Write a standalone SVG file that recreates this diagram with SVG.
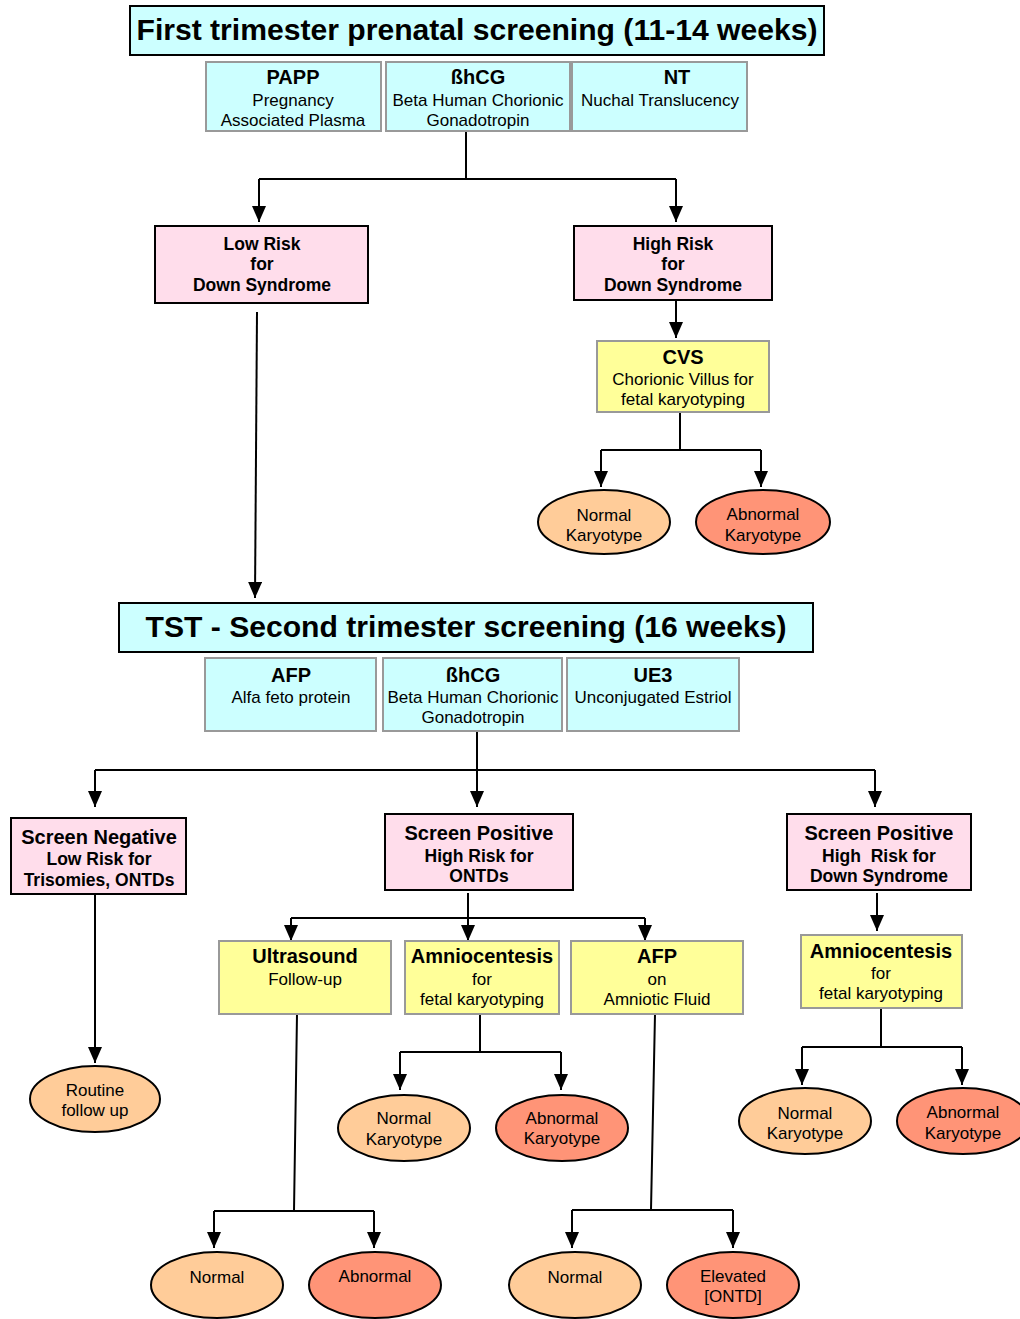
<svg xmlns="http://www.w3.org/2000/svg" width="1020" height="1319" viewBox="0 0 1020 1319">
<defs>
<marker id="arr" markerUnits="userSpaceOnUse" markerWidth="16" markerHeight="14" refX="16" refY="7" orient="auto">
<path d="M0,0 L16,7 L0,14 z" fill="#000"/>
</marker>
<style>
text{font-family:"Liberation Sans",Arial,sans-serif;fill:#000;text-anchor:middle}
.t{font-size:30px;font-weight:bold}
.h{font-size:20px;font-weight:bold}
.hb{font-size:17.5px;font-weight:bold}
.r{font-size:17px}
.cy{fill:#CCFFFF;stroke:#999;stroke-width:2}
.cyt{fill:#CCFFFF;stroke:#000;stroke-width:2}
.pk{fill:#FFDDEB;stroke:#000;stroke-width:2}
.ye{fill:#FFFF99;stroke:#999;stroke-width:2}
.or{fill:#FFCC99;stroke:#000;stroke-width:2}
.sa{fill:#FF9477;stroke:#000;stroke-width:2}
.c{fill:none;stroke:#000;stroke-width:2}
.ca{fill:none;stroke:#000;stroke-width:2;marker-end:url(#arr)}
</style>
</defs>
<rect width="1020" height="1319" fill="#fff"/>

<g id="connectors">
<path class="c" d="M466,131 V179 M259,179 H676"/>
<path class="ca" d="M259,179 V222"/>
<path class="ca" d="M676,179 V222"/>
<path class="ca" d="M676,300 V338"/>
<path class="c" d="M680,412 V450 M601,450 H761"/>
<path class="ca" d="M601,450 V487"/>
<path class="ca" d="M761,450 V487"/>
<path class="ca" d="M257,312 L255,598"/>
<path class="c" d="M477,731 V770 M95,770 H875"/>
<path class="ca" d="M95,770 V807"/>
<path class="ca" d="M477,770 V807"/>
<path class="ca" d="M875,770 V807"/>
<path class="ca" d="M95,894 V1063"/>
<path class="c" d="M468,893 V918 M291,918 H645"/>
<path class="ca" d="M291,918 V941"/>
<path class="ca" d="M468,918 V941"/>
<path class="ca" d="M645,918 V941"/>
<path class="c" d="M480,1014 V1052 M400,1052 H561"/>
<path class="ca" d="M400,1052 V1090"/>
<path class="ca" d="M561,1052 V1090"/>
<path class="c" d="M297,1014 L294,1211 M214,1211 H374"/>
<path class="ca" d="M214,1211 V1248"/>
<path class="ca" d="M374,1211 V1248"/>
<path class="c" d="M655,1014 L651,1210 M572,1210 H733"/>
<path class="ca" d="M572,1210 V1248"/>
<path class="ca" d="M733,1210 V1248"/>
<path class="ca" d="M877,893 V931"/>
<path class="c" d="M881,1008 V1047 M802,1047 H962"/>
<path class="ca" d="M802,1047 V1085"/>
<path class="ca" d="M962,1047 V1085"/>
</g>

<g id="title1">
<rect class="cyt" x="130" y="6" width="694" height="49"/>
<text class="t" x="477" y="40" textLength="681" lengthAdjust="spacingAndGlyphs">First trimester prenatal screening (11-14 weeks)</text>
</g>
<g id="papp">
<rect class="cy" x="206" y="62" width="175" height="69"/>
<text class="h" x="293" y="84">PAPP</text>
<text class="r" x="293" y="106">Pregnancy</text>
<text class="r" x="293" y="126">Associated Plasma</text>
</g>
<g id="bhcg1">
<rect class="cy" x="386" y="62" width="184" height="69"/>
<text class="h" x="478" y="84">ßhCG</text>
<text class="r" x="478" y="106">Beta Human Chorionic</text>
<text class="r" x="478" y="126">Gonadotropin</text>
</g>
<g id="nt">
<rect class="cy" x="572" y="62" width="175" height="69"/>
<text class="h" x="677" y="84">NT</text>
<text class="r" x="660" y="106">Nuchal Translucency</text>
</g>

<g id="lowrisk">
<rect class="pk" x="155" y="226" width="213" height="77"/>
<text class="hb" x="262" y="250">Low Risk</text>
<text class="hb" x="262" y="270">for</text>
<text class="hb" x="262" y="291">Down Syndrome</text>
</g>
<g id="highrisk">
<rect class="pk" x="574" y="226" width="198" height="74"/>
<text class="hb" x="673" y="250">High Risk</text>
<text class="hb" x="673" y="270">for</text>
<text class="hb" x="673" y="291">Down Syndrome</text>
</g>
<g id="cvs">
<rect class="ye" x="597" y="341" width="172" height="71"/>
<text class="h" x="683" y="364">CVS</text>
<text class="r" x="683" y="385">Chorionic Villus for</text>
<text class="r" x="683" y="405">fetal karyotyping</text>
</g>
<g id="cvs-normal">
<ellipse class="or" cx="604" cy="522" rx="66" ry="32"/>
<text class="r" x="604" y="521">Normal</text>
<text class="r" x="604" y="541">Karyotype</text>
</g>
<g id="cvs-abnormal">
<ellipse class="sa" cx="763" cy="522" rx="67" ry="32"/>
<text class="r" x="763" y="520">Abnormal</text>
<text class="r" x="763" y="541">Karyotype</text>
</g>

<g id="title2">
<rect class="cyt" x="119" y="603" width="694" height="49"/>
<text class="t" x="466" y="637" textLength="641" lengthAdjust="spacingAndGlyphs">TST - Second trimester screening (16 weeks)</text>
</g>
<g id="afp1">
<rect class="cy" x="205" y="658" width="171" height="73"/>
<text class="h" x="291" y="682">AFP</text>
<text class="r" x="291" y="703">Alfa feto protein</text>
</g>
<g id="bhcg2">
<rect class="cy" x="383" y="658" width="179" height="73"/>
<text class="h" x="473" y="682">ßhCG</text>
<text class="r" x="473" y="703">Beta Human Chorionic</text>
<text class="r" x="473" y="723">Gonadotropin</text>
</g>
<g id="ue3">
<rect class="cy" x="567" y="658" width="172" height="73"/>
<text class="h" x="653" y="682">UE3</text>
<text class="r" x="653" y="703">Unconjugated Estriol</text>
</g>

<g id="screen-negative">
<rect class="pk" x="11" y="818" width="175" height="76"/>
<text class="h" x="99" y="844">Screen Negative</text>
<text class="hb" x="99" y="865">Low Risk for</text>
<text class="hb" x="99" y="886">Trisomies, ONTDs</text>
</g>
<g id="screen-positive-ontd">
<rect class="pk" x="385" y="814" width="188" height="76"/>
<text class="h" x="479" y="840">Screen Positive</text>
<text class="hb" x="479" y="862">High Risk for</text>
<text class="hb" x="479" y="882">ONTDs</text>
</g>
<g id="screen-positive-down">
<rect class="pk" x="787" y="814" width="184" height="76"/>
<text class="h" x="879" y="840">Screen Positive</text>
<text class="hb" x="879" y="862" xml:space="preserve">High  Risk for</text>
<text class="hb" x="879" y="882">Down Syndrome</text>
</g>

<g id="routine">
<ellipse class="or" cx="95" cy="1099" rx="65" ry="33"/>
<text class="r" x="95" y="1096">Routine</text>
<text class="r" x="95" y="1116">follow up</text>
</g>

<g id="ultrasound">
<rect class="ye" x="219" y="941" width="172" height="73"/>
<text class="h" x="305" y="963">Ultrasound</text>
<text class="r" x="305" y="985">Follow-up</text>
</g>
<g id="amnio1">
<rect class="ye" x="405" y="941" width="154" height="73"/>
<text class="h" x="482" y="963">Amniocentesis</text>
<text class="r" x="482" y="985">for</text>
<text class="r" x="482" y="1005">fetal karyotyping</text>
</g>
<g id="afp2">
<rect class="ye" x="571" y="941" width="172" height="73"/>
<text class="h" x="657" y="963">AFP</text>
<text class="r" x="657" y="985">on</text>
<text class="r" x="657" y="1005">Amniotic Fluid</text>
</g>
<g id="amnio1-normal">
<ellipse class="or" cx="404" cy="1128" rx="66" ry="33"/>
<text class="r" x="404" y="1124">Normal</text>
<text class="r" x="404" y="1145">Karyotype</text>
</g>
<g id="amnio1-abnormal">
<ellipse class="sa" cx="562" cy="1128" rx="66" ry="33"/>
<text class="r" x="562" y="1124">Abnormal</text>
<text class="r" x="562" y="1144">Karyotype</text>
</g>
<g id="us-normal">
<ellipse class="or" cx="217" cy="1285" rx="66" ry="33"/>
<text class="r" x="217" y="1283">Normal</text>
</g>
<g id="us-abnormal">
<ellipse class="sa" cx="375" cy="1285" rx="66" ry="33"/>
<text class="r" x="375" y="1282">Abnormal</text>
</g>
<g id="afp-normal">
<ellipse class="or" cx="575" cy="1285" rx="66" ry="33"/>
<text class="r" x="575" y="1283">Normal</text>
</g>
<g id="afp-elevated">
<ellipse class="sa" cx="733" cy="1285" rx="66" ry="33"/>
<text class="r" x="733" y="1282">Elevated</text>
<text class="r" x="733" y="1302">[ONTD]</text>
</g>

<g id="amnio2">
<rect class="ye" x="801" y="935" width="161" height="73"/>
<text class="h" x="881" y="958">Amniocentesis</text>
<text class="r" x="881" y="979">for</text>
<text class="r" x="881" y="999">fetal karyotyping</text>
</g>
<g id="amnio2-normal">
<ellipse class="or" cx="805" cy="1121" rx="66" ry="33"/>
<text class="r" x="805" y="1119">Normal</text>
<text class="r" x="805" y="1139">Karyotype</text>
</g>
<g id="amnio2-abnormal">
<ellipse class="sa" cx="963" cy="1121" rx="66" ry="33"/>
<text class="r" x="963" y="1118">Abnormal</text>
<text class="r" x="963" y="1139">Karyotype</text>
</g>
</svg>
